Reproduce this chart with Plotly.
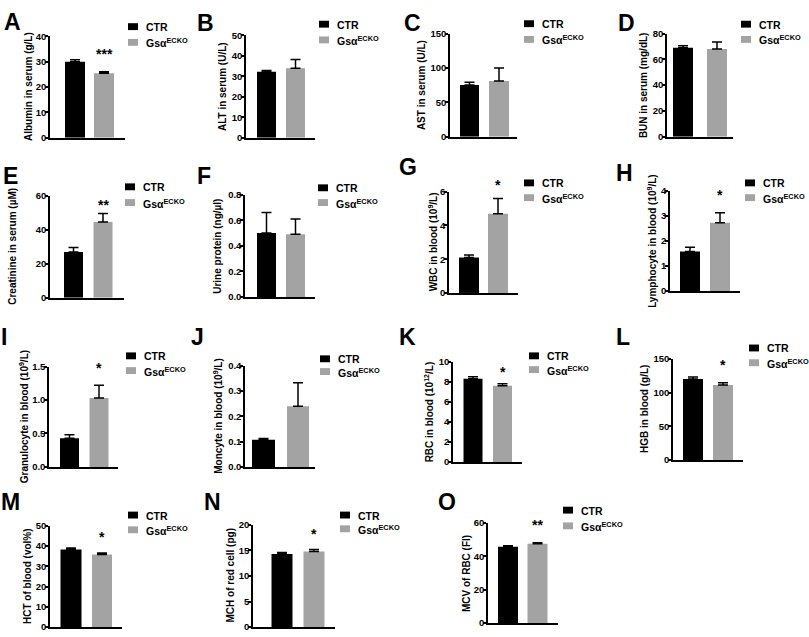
import plotly.graph_objects as go

# ---------------- data ----------------
groups = ["CTR", "Gsα<sup>ECKO</sup>"]
letters = ["A", "B", "C", "D", "E", "F", "G", "H", "I", "J", "K", "L", "M", "N", "O"]
y_titles = [
    "Albumin in serum (g/L)",
    "ALT in serum (U/L)",
    "AST in serum (U/L)",
    "BUN in serum (mg/dL)",
    "Creatinine in serum (µM)",
    "Urine protein (ng/µl)",
    "WBC in blood (10<sup>9</sup>/L)",
    "Lymphocyte in blood (10<sup>9</sup>/L)",
    "Granulocyte in blood (10<sup>9</sup>/L)",
    "Moncyte in blood (10<sup>9</sup>/L)",
    "RBC in blood (10<sup>12</sup>/L)",
    "HGB in blood (g/L)",
    "HCT of blood (vol%)",
    "MCH of red cell (pg)",
    "MCV of RBC (Fl)",
]
ctr_mean = [30.0, 32.3, 75.0, 69.0, 27.0, 0.50, 2.1, 1.58, 0.43, 0.107, 8.3, 120.0, 38.3, 14.3, 45.8]
ctr_sem = [0.8, 0.6, 4.0, 1.5, 2.5, 0.16, 0.15, 0.17, 0.05, 0.005, 0.2, 3.0, 0.8, 0.3, 0.5]
ko_mean = [25.5, 34.0, 81.0, 68.0, 44.5, 0.49, 4.7, 2.72, 1.03, 0.24, 7.6, 111.0, 35.9, 14.8, 47.6]
ko_sem = [0.6, 4.2, 19.0, 5.5, 5.0, 0.12, 0.9, 0.40, 0.19, 0.093, 0.2, 3.5, 0.7, 0.4, 0.5]
y_max = [40, 50, 150, 80, 60, 0.8, 6, 4, 1.5, 0.4, 10, 150, 50, 20, 60]
y_dtick = [10, 10, 50, 20, 20, 0.2, 2, 1, 0.5, 0.1, 2, 50, 10, 5, 20]
y_format = ["d", "d", "d", "d", "d", ".1f", "d", "d", ".1f", ".1f", "d", "d", "d", "d", "d"]
stars = ["***", "", "", "", "**", "", "*", "*", "*", "", "*", "*", "*", "*", "**"]

# ---------------- layout (pixel geometry per panel) ----------------
W, H = 809, 637
# ax, end, c1, c2, w1, w2, top, bot, legx, legy1, legy2, titlex, letx, lety, stary
geo = [
    (50, 125, 75, 104, 20, 20, 31, 134, 128, 21, 37, 28, 12.5, 15, 50),
    (246, 315, 266.5, 295.5, 19, 19, 30, 134, 319, 18.5, 34.5, 222.5, 205, 16, 0),
    (450, 517, 469.5, 499, 19, 20, 28, 133, 524, 18, 34, 421, 412, 16, 0),
    (667, 733, 683, 717, 20, 20, 28, 133, 741, 18.5, 34, 643, 626, 16, 0),
    (50, 124, 73.5, 103, 19, 19, 193, 297, 125, 184, 200, 13, 10, 172, 203),
    (245, 315, 266.5, 295.5, 19, 19, 192, 296, 318, 185, 200, 218, 204, 172, 0),
    (449, 518, 469, 498, 20, 20, 189, 292, 524, 180, 195, 433, 408, 163, 183),
    (670, 740, 690, 720, 20, 20, 188, 290, 745, 180, 195, 652, 624, 169, 193),
    (49, 118, 69.5, 99, 19, 19, 367, 469, 126, 356, 371, 23.5, 4, 336, 369),
    (245, 315, 263.5, 298, 23, 22, 366, 469, 320, 359, 372, 218.5, 197, 336, 0),
    (453, 522, 473, 502.5, 19, 19, 362, 464, 529, 356, 370, 428.5, 407, 336, 373),
    (673, 743, 693, 723, 20, 20, 359, 462, 749, 348, 363, 644.5, 623, 336, 366),
    (50, 122, 71, 102, 21, 20, 529, 632, 128, 518, 533, 27.5, 10, 504, 541),
    (253, 335, 282, 314, 21, 21, 528, 632, 340, 518, 532, 230.5, 212, 504, 538),
    (488, 558, 508, 537.5, 20, 20, 526, 628, 563, 513, 529, 466, 447, 504, 529),
]

BLACK = "#000000"
GRAY = "#a3a3a3"
FONT = "Liberation Sans, Arial, sans-serif"


def px(x):
    return x / W


def py(y):
    return 1 - y / H


fig = go.Figure()
layout = dict(
    width=W, height=H, margin=dict(l=0, r=0, t=0, b=0),
    paper_bgcolor="white", plot_bgcolor="white", showlegend=False,
    font=dict(family=FONT, color="black"),
)
annotations = []
shapes = []

for i in range(15):
    ax, end, c1, c2, w1, w2, top, bot, legx, ly1, ly2, tx, lx, lyy, sy = geo[i]
    n = "" if i == 0 else str(i + 1)
    s = c2 - c1
    xr = [(ax - c1) / s, 1 + (end - c2) / s]
    fig.add_trace(go.Bar(
        x=[0], y=[ctr_mean[i]], width=[w1 / s], marker=dict(color=BLACK, line=dict(width=0)),
        error_y=dict(type="data", symmetric=False, array=[ctr_sem[i]], arrayminus=[0],
                     color=BLACK, thickness=1.5, width=5),
        xaxis="x" + n, yaxis="y" + n, name=groups[0]))
    fig.add_trace(go.Bar(
        x=[1], y=[ko_mean[i]], width=[w2 / s], marker=dict(color=GRAY, line=dict(width=0)),
        error_y=dict(type="data", symmetric=False, array=[ko_sem[i]], arrayminus=[0],
                     color=BLACK, thickness=1.5, width=5),
        xaxis="x" + n, yaxis="y" + n, name=groups[1]))
    layout["xaxis" + n] = dict(
        domain=[px(ax), px(end)], range=xr, anchor="y" + n,
        showline=True, linecolor="black", linewidth=1.5, showticklabels=False,
        ticks="", showgrid=False, zeroline=False, fixedrange=True)
    layout["yaxis" + n] = dict(
        domain=[py(bot), py(top)], range=[0, y_max[i]], anchor="x" + n,
        tick0=0, dtick=y_dtick[i], tickformat=y_format[i],
        ticks="outside", ticklen=3, tickwidth=1.5, tickcolor="black",
        ticklabelstandoff=-3,
        showline=True, linecolor="black", linewidth=1.5,
        showgrid=False, zeroline=False, fixedrange=True,
        tickfont=dict(family=FONT, size=9.5, color="black", weight="bold"))
    # y title
    annotations.append(dict(
        text="<b>" + y_titles[i] + "</b>", textangle=-90, x=px(tx), y=py((top + bot) / 2),
        xref="paper", yref="paper", showarrow=False, xanchor="center", yanchor="middle",
        font=dict(family=FONT, size=10, color="black")))
    # panel letter
    annotations.append(dict(
        text="<b>" + letters[i] + "</b>", x=px(lx), y=py(lyy + 1),
        xref="paper", yref="paper", showarrow=False, xanchor="center", yanchor="middle",
        font=dict(family=FONT, size=23, color="black")))
    # legend
    for k, (yy, col) in enumerate([(ly1, BLACK), (ly2, GRAY)]):
        shapes.append(dict(type="rect", xref="paper", yref="paper",
                           x0=px(legx), x1=px(legx + 10), y0=py(yy + 3.5), y1=py(yy - 3.5),
                           fillcolor=col, line=dict(width=0)))
        annotations.append(dict(
            text="<b>" + groups[k] + "</b>", x=px(legx + 16), y=py(yy + 0.5),
            xref="paper", yref="paper", showarrow=False, xanchor="left", yanchor="middle",
            font=dict(family=FONT, size=10.5, color="black")))
    # significance
    if stars[i]:
        annotations.append(dict(
            text="<b>" + stars[i] + "</b>", x=1, xref="x" + n, y=py(sy - 1), yref="paper",
            showarrow=False, xanchor="center", yanchor="middle",
            font=dict(family=FONT, size=14, color="black")))

layout["annotations"] = annotations
layout["shapes"] = shapes
fig.update_layout(**layout)
fig.write_html("out.html", config={"displayModeBar": False},
               post_script="document.body.style.margin='0';")
